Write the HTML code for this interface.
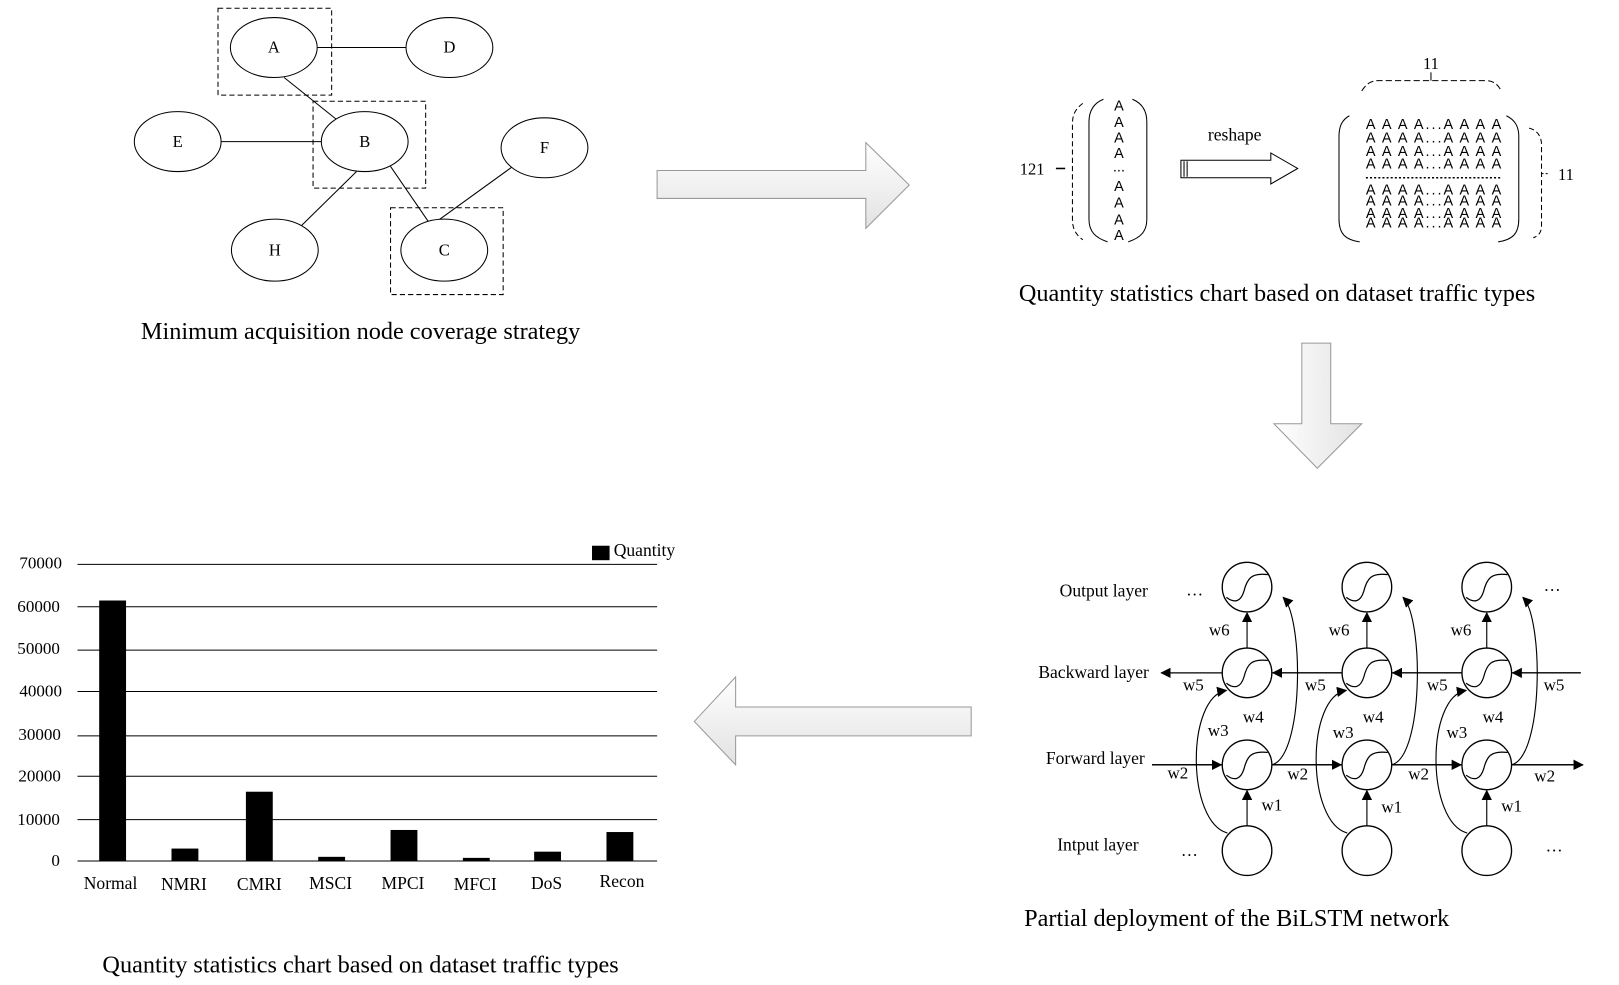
<!DOCTYPE html>
<html><head><meta charset="utf-8"><style>
html,body{margin:0;padding:0;background:#fff;}
svg{display:block;}
text{font-family:"Liberation Serif",serif;fill:#000;}
.s{font-family:"Liberation Sans",sans-serif;}
</style></head><body>
<svg width="1619" height="985" viewBox="0 0 1567 953" preserveAspectRatio="none" xmlns="http://www.w3.org/2000/svg">
<defs>
<linearGradient id="g" x1="0" y1="0" x2="0" y2="1"><stop offset="0" stop-color="#fff"/><stop offset="1" stop-color="#e2e2e2"/></linearGradient>
<linearGradient id="gh" x1="0" y1="0" x2="1" y2="0"><stop offset="0" stop-color="#fff"/><stop offset="1" stop-color="#e2e2e2"/></linearGradient>
<marker id="ar" markerWidth="10" markerHeight="10" refX="9" refY="5" orient="auto" markerUnits="userSpaceOnUse"><path d="M0,0 L10,5 L0,10 z" fill="#000"/></marker>
<g id="sig"><circle r="24" fill="#fff" stroke="#000" stroke-width="1.3"/><path d="M-20,10 C-12,16 -6,14 -3,4 C0,-8 4,-14 20,-12" fill="none" stroke="#000" stroke-width="1.2"/></g>
</defs>

<g fill="none" stroke="#000" stroke-width="1">
<rect x="211" y="8" width="110" height="84" stroke-dasharray="5,3"/>
<rect x="303" y="98" width="109" height="84" stroke-dasharray="5,3"/>
<rect x="378" y="201" width="109" height="84" stroke-dasharray="5,3"/>
<line x1="307" y1="46" x2="393" y2="46"/>
<line x1="214" y1="137" x2="311" y2="137"/>
<line x1="275" y1="75" x2="325" y2="115"/>
<line x1="345" y1="166" x2="292" y2="218"/>
<line x1="378" y1="161" x2="415" y2="215"/>
<line x1="495" y1="162" x2="412" y2="222"/>
</g>
<g fill="#fff" stroke="#000" stroke-width="1">
<ellipse cx="265" cy="46" rx="42" ry="29"/>
<ellipse cx="435" cy="46" rx="42" ry="29"/>
<ellipse cx="353" cy="137" rx="42" ry="29"/>
<ellipse cx="172" cy="137" rx="42" ry="29"/>
<ellipse cx="527" cy="143" rx="42" ry="29"/>
<ellipse cx="266" cy="242" rx="42" ry="30"/>
<ellipse cx="430" cy="242" rx="42" ry="30"/>
</g>
<g font-size="16" text-anchor="middle">
<text x="265" y="51">A</text><text x="435" y="51">D</text><text x="353" y="142">B</text>
<text x="172" y="142">E</text><text x="527" y="148">F</text><text x="266" y="247">H</text><text x="430" y="247">C</text>
</g>
<text x="349" y="328" font-size="23.5" text-anchor="middle">Minimum acquisition node coverage strategy</text>

<path d="M636,165 L838,165 L838,138 L880,179 L838,221 L838,192 L636,192 z" fill="url(#g)" stroke="#999"/>
<path d="M1260,332 L1288,332 L1288,410 L1318,410 L1275,453 L1233,410 L1260,410 z" fill="url(#gh)" stroke="#999"/>
<path d="M940,684 L712,684 L712,655 L672,698 L712,740 L712,712 L940,712 z" fill="url(#g)" stroke="#999"/>

<text x="987" y="169" font-size="16">121</text>
<line x1="1022" y1="163" x2="1031" y2="163" stroke="#000" stroke-width="1.5"/>
<g fill="none" stroke="#000" stroke-width="1">
<path d="M1048,100 C1040,106 1038,112 1038,120 L1038,212 C1038,220 1040,226 1048,232" stroke-dasharray="5,3"/>
<path d="M1068,96 C1058,100 1054,108 1054,118 L1054,212 C1054,224 1060,230 1072,234"/>
<path d="M1096,96 C1106,100 1110,108 1110,118 L1110,212 C1110,224 1104,230 1092,234"/>
<path d="M1306,112 C1299,116 1296,122 1296,132 L1296,212 C1296,226 1302,232 1316,234"/>
<path d="M1458,112 C1466,116 1470,122 1470,132 L1470,212 C1470,226 1464,232 1450,234"/>
<path d="M1318,88 C1322,82 1326,78 1334,78 L1438,78 C1446,78 1450,82 1453,88" stroke-dasharray="6,3"/>
<line x1="1385" y1="70" x2="1385" y2="78"/>
<path d="M1480,124 C1488,126 1492,132 1492,140 L1492,218 C1492,224 1490,228 1484,230" stroke-dasharray="5,3"/>
<line x1="1492" y1="168" x2="1500" y2="168" stroke-dasharray="2,2"/>
<line x1="1322" y1="172" x2="1454" y2="172" stroke-dasharray="2,2" stroke-width="1.5"/>
<path d="M1143,155 L1230,155 L1230,148 L1256,163 L1230,178 L1230,172 L1143,172 z" fill="#fff"/>
<line x1="1146" y1="156" x2="1146" y2="171"/><line x1="1149" y1="156" x2="1149" y2="171"/>
</g>
<text x="1385" y="67" font-size="16" text-anchor="middle">11</text>
<text x="1508" y="174" font-size="16">11</text>
<text x="1195" y="136" font-size="17" text-anchor="middle">reshape</text>
<g font-size="14" text-anchor="middle">
<text class="s" x="1083" y="107">A</text><text class="s" x="1083" y="123">A</text><text class="s" x="1083" y="138">A</text><text class="s" x="1083" y="153">A</text>
<text class="s" x="1083" y="166">...</text>
<text class="s" x="1083" y="185">A</text><text class="s" x="1083" y="201">A</text><text class="s" x="1083" y="217">A</text><text class="s" x="1083" y="232">A</text>
</g>
<g font-size="14">
<text class="s" x="1322" y="125" textLength="131" lengthAdjust="spacing">A A A A...A A A A</text>
<text class="s" x="1322" y="138" textLength="131" lengthAdjust="spacing">A A A A...A A A A</text>
<text class="s" x="1322" y="151" textLength="131" lengthAdjust="spacing">A A A A...A A A A</text>
<text class="s" x="1322" y="163" textLength="131" lengthAdjust="spacing">A A A A...A A A A</text>
<text class="s" x="1322" y="188" textLength="131" lengthAdjust="spacing">A A A A...A A A A</text>
<text class="s" x="1322" y="199" textLength="131" lengthAdjust="spacing">A A A A...A A A A</text>
<text class="s" x="1322" y="211" textLength="131" lengthAdjust="spacing">A A A A...A A A A</text>
<text class="s" x="1322" y="220" textLength="131" lengthAdjust="spacing">A A A A...A A A A</text>
</g>
<text x="1236" y="291" font-size="23.5" text-anchor="middle">Quantity statistics chart based on dataset traffic types</text>

<g fill="none" stroke="#000" stroke-width="1.3">
<line x1="1530" y1="651" x2="1124" y2="651" marker-end="url(#ar)"/>
<line x1="1115" y1="740" x2="1532" y2="740"/>
<path d="M1530,651 L1464,651" marker-end="url(#ar)"/>
<path d="M1415,651 L1348,651" marker-end="url(#ar)"/>
<path d="M1299,651 L1232,651" marker-end="url(#ar)"/>
<path d="M1115,740 L1182,740" marker-end="url(#ar)"/>
<path d="M1231,740 L1298,740" marker-end="url(#ar)"/>
<path d="M1347,740 L1414,740" marker-end="url(#ar)"/>
<path d="M1463,740 L1532,740" marker-end="url(#ar)"/>
</g>
<g id="col" fill="none" stroke="#000" stroke-width="1.1">
<path d="M1207,799 L1207,765" marker-end="url(#ar)"/>
<path d="M1207,627 L1207,593" marker-end="url(#ar)"/>
<path d="M1231,740 C1262,732 1262,598 1242,578" marker-end="url(#ar)"/>
<path d="M1188,806 C1148,795 1148,674 1187,668" marker-end="url(#ar)"/>
</g>
<use href="#col" x="116"/><use href="#col" x="232"/>
<g>
<use href="#sig" x="1207" y="568"/><use href="#sig" x="1323" y="568"/><use href="#sig" x="1439" y="568"/>
<use href="#sig" x="1207" y="651"/><use href="#sig" x="1323" y="651"/><use href="#sig" x="1439" y="651"/>
<use href="#sig" x="1207" y="740"/><use href="#sig" x="1323" y="740"/><use href="#sig" x="1439" y="740"/>
<circle cx="1207" cy="823" r="24" fill="#fff" stroke="#000" stroke-width="1.3"/>
<circle cx="1323" cy="823" r="24" fill="#fff" stroke="#000" stroke-width="1.3"/>
<circle cx="1439" cy="823" r="24" fill="#fff" stroke="#000" stroke-width="1.3"/>
</g>
<g font-size="17" text-anchor="end">
<text x="1111" y="577">Output layer</text><text x="1112" y="656">Backward layer</text>
<text x="1108" y="739">Forward layer</text><text x="1102" y="823">Intput layer</text>
</g>
<g font-size="16.5">
<text x="1148" y="576">…</text><text x="1494" y="572">…</text><text x="1143" y="828">…</text><text x="1496" y="824">…</text>
<text x="1170" y="615">w6</text><text x="1286" y="615">w6</text><text x="1404" y="615">w6</text>
<text x="1145" y="668">w5</text><text x="1263" y="668">w5</text><text x="1381" y="668">w5</text><text x="1494" y="668">w5</text>
<text x="1203" y="699">w4</text><text x="1319" y="699">w4</text><text x="1435" y="699">w4</text>
<text x="1169" y="712">w3</text><text x="1290" y="714">w3</text><text x="1400" y="714">w3</text>
<text x="1130" y="753">w2</text><text x="1246" y="754">w2</text><text x="1363" y="754">w2</text><text x="1485" y="756">w2</text>
<text x="1221" y="784">w1</text><text x="1337" y="786">w1</text><text x="1453" y="785">w1</text>
</g>
<text x="1197" y="896" font-size="23.5" text-anchor="middle">Partial deployment of the BiLSTM network</text>

<g stroke="#000" stroke-width="1">
<line x1="75" y1="546" x2="636" y2="546"/><line x1="75" y1="587" x2="636" y2="587"/>
<line x1="75" y1="629" x2="636" y2="629"/><line x1="75" y1="669" x2="636" y2="669"/>
<line x1="75" y1="712" x2="636" y2="712"/><line x1="75" y1="751" x2="636" y2="751"/>
<line x1="75" y1="793" x2="636" y2="793"/><line x1="75" y1="833" x2="636" y2="833"/>
</g>
<g fill="#000">
<rect x="96" y="581" width="26" height="252"/>
<rect x="166" y="821" width="26" height="12"/>
<rect x="238" y="766" width="26" height="67"/>
<rect x="308" y="829" width="26" height="4"/>
<rect x="378" y="803" width="26" height="30"/>
<rect x="448" y="830" width="26" height="3"/>
<rect x="517" y="824" width="26" height="9"/>
<rect x="587" y="805" width="26" height="28"/>
<rect x="573" y="528" width="17" height="14"/>
</g>
<text x="594" y="538" font-size="17">Quantity</text>
<g font-size="16.5" text-anchor="end">
<text x="60" y="550">70000</text><text x="58" y="592">60000</text><text x="58" y="633">50000</text>
<text x="60" y="674">40000</text><text x="59" y="716">30000</text><text x="59" y="756">20000</text>
<text x="58" y="798">10000</text><text x="58" y="838">0</text>
</g>
<g font-size="17" text-anchor="middle">
<text x="107" y="860">Normal</text><text x="178" y="861">NMRI</text><text x="251" y="861">CMRI</text>
<text x="320" y="860">MSCI</text><text x="390" y="860">MPCI</text><text x="460" y="861">MFCI</text>
<text x="529" y="860">DoS</text><text x="602" y="858">Recon</text>
</g>
<text x="349" y="941" font-size="23.5" text-anchor="middle">Quantity statistics chart based on dataset traffic types</text>
</svg>
</body></html>
